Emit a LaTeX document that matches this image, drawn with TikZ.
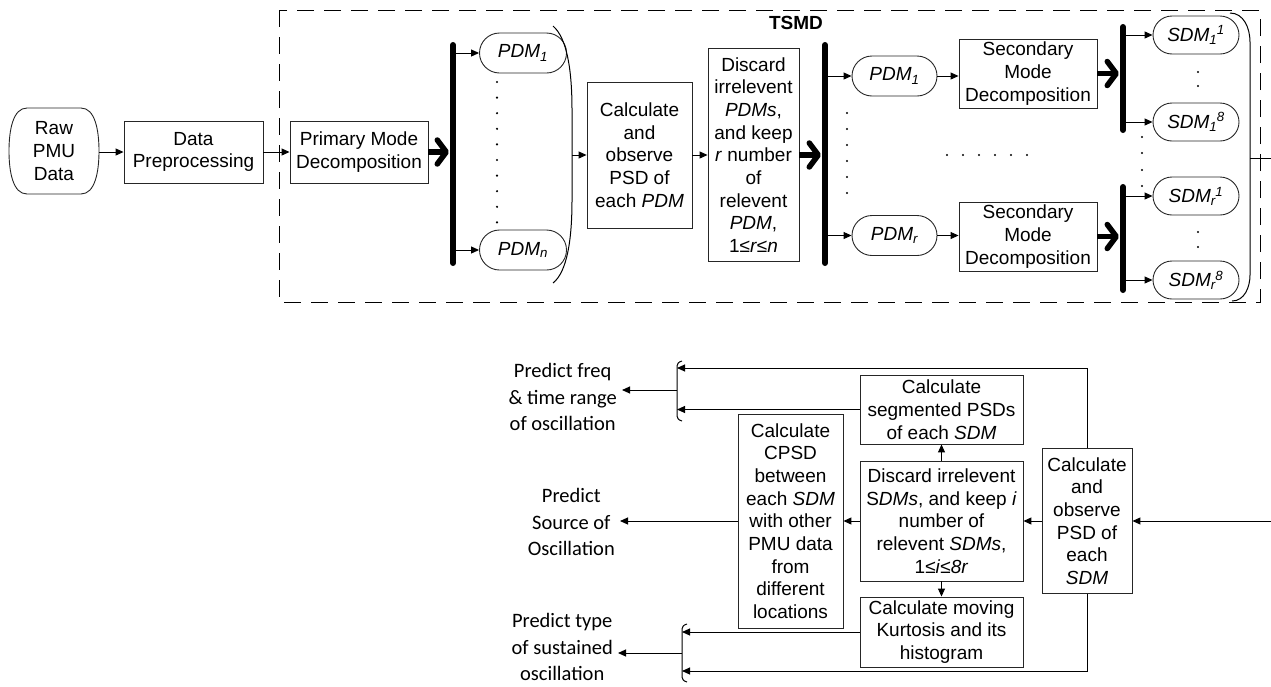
\documentclass[tikz,border=0pt]{standalone}
\usepackage{fontspec}
\setmainfont{Liberation Sans}
\newfontfamily\calfont{Carlito}
\usetikzlibrary{arrows.meta,shapes.misc}
\newcommand\SDMx[2]{\textit{SDM\textsubscript{#1}\kern-0.5pt\textsuperscript{#2}}}
\newcommand\PDMx[1]{\textit{PDM\textsubscript{#1}}}
\begin{document}
\begin{tikzpicture}[x=1pt,y=-1pt,
  every node/.style={font=\fontsize{19}{22.7}\selectfont, inner sep=0pt},
  box/.style={draw=black!85, line width=0.9pt, align=center, rectangle},
  term/.style={draw=black!85, line width=0.9pt, rounded rectangle, minimum width=87pt, minimum height=40pt},
  arr/.style={line width=1pt, -{Triangle[length=8pt,width=7pt]}},
  ln/.style={line width=1pt},
  barline/.style={line width=6pt, line cap=round},
  fat/.style={line width=5.5pt, -{Straight Barb[length=9pt,width=24pt,round]}},
  outtxt/.style={font=\calfont\fontsize{20.5}{26.5}\selectfont, align=center, inner sep=5pt},
  dashbox/.style={dash pattern=on 17pt off 10pt, line width=1pt}
]
\useasboundingbox (0,0) rectangle (1271,686);

% ---------- top part ----------
\draw[dashbox] (279,10) rectangle (1260,302);
\node[font=\bfseries\fontsize{19}{22}\selectfont] (tsmd) at (796,23) {TSMD};

\node[minimum width=90pt, minimum height=86pt, align=center] (raw) at (54,151) {Raw\\PMU\\Data};
\draw[draw=black!85, line width=0.9pt] (27,108) -- (81,108) .. controls (95,108) and (99,130) .. (99,151)
  .. controls (99,172) and (95,194) .. (81,194) -- (27,194) .. controls (13,194) and (9,172) .. (9,151)
  .. controls (9,130) and (13,108) .. (27,108) -- cycle;
\node[box, minimum width=139pt, minimum height=62pt] (dp) at (193.5,152) {Data\\Preprocessing};
\node[box, minimum width=138pt, minimum height=62pt] (pmd) at (359,152) {Primary Mode\\Decomposition};
\draw[arr] (raw.east |- dp) -- (dp.west);
\draw[arr] (dp.east) -- (pmd.west);

\coordinate (b1t) at (453,45);
\coordinate (b1b) at (453,263);
\draw[barline] (b1t) -- (b1b);
\draw[fat] (pmd.east) -- ([xshift=-4pt]b1t |- pmd.east);

\node[term] (pdm1) at (523,53) {\PDMx{1}};
\node[term] (pdmn) at (523,250) {\PDMx{n}};
\draw[arr] (b1t |- pdm1) -- (pdm1.west);
\draw[arr] (b1t |- pdmn) -- (pdmn.west);
\foreach \y in {82,97.6,...,224} \fill (497,\y) circle (1.2pt);

\draw[ln] (553,26) .. controls (567,38) and (572,70) .. (572,110) -- (572,200) .. controls (572,240) and (567,272) .. (553,283);
\coordinate (br1) at (572,155);

\node[box, minimum width=105pt, minimum height=146pt] (psd1) at (639.5,155)
  {Calculate\\and\\observe\\PSD of\\each \textit{PDM}};
\draw[arr] (br1) -- (psd1.west);

\node[box, minimum width=91pt, minimum height=213pt] (disc1) at (753.5,155)
  {Discard\\irrelevent\\\textit{PDMs},\\and keep\\\textit{r} number\\of\\relevent\\\textit{PDM},\\1≤\textit{r}≤\textit{n}};
\draw[arr] (psd1.east) -- (disc1.west);

\coordinate (b2t) at (825,45);
\coordinate (b2b) at (825,263);
\draw[barline] (b2t) -- (b2b);
\draw[fat] (disc1.east) -- ([xshift=-4pt]b2t |- disc1.east);

\node[term, minimum width=85pt] (pdmA) at (894.5,76) {\PDMx{1}};
\node[term, minimum width=85pt] (pdmR) at (894.5,235.5) {\PDMx{r}};
\draw[arr] (b2t |- pdmA) -- (pdmA.west);
\draw[arr] (b2t |- pdmR) -- (pdmR.west);
\foreach \y in {113,129,...,194} \fill (847,\y) circle (1.2pt);

\node[box, minimum width=138pt, minimum height=69pt] (smd1) at (1028,73.5) {Secondary\\Mode\\Decomposition};
\node[box, minimum width=138pt, minimum height=69pt] (smd2) at (1028,236.5) {Secondary\\Mode\\Decomposition};
\draw[arr] (pdmA.east) -- (pdmA.east -| smd1.west);
\draw[arr] (pdmR.east) -- (pdmR.east -| smd2.west);
\foreach \x in {947,963,...,1028} \fill (\x,155) circle (1.2pt);

\coordinate (b3t) at (1123,27);
\coordinate (b3b) at (1123,130);
\coordinate (b4t) at (1123,187);
\coordinate (b4b) at (1123,290);
\draw[barline] (b3t) -- (b3b);
\draw[barline] (b4t) -- (b4b);
\draw[fat] (smd1.east) -- ([xshift=-4pt]b3t |- smd1.east);
\draw[fat] (smd2.east) -- ([xshift=-4pt]b4t |- smd2.east);

\node[term, minimum width=86pt, minimum height=38pt] (s11) at (1196,35) {\SDMx{1}{1}};
\node[term, minimum width=86pt, minimum height=38pt] (s18) at (1196,122) {\SDMx{1}{8}};
\node[term, minimum width=86pt, minimum height=38pt] (sr1) at (1196,196) {\SDMx{r}{1}};
\node[term, minimum width=86pt, minimum height=38pt] (sr8) at (1196,280) {\SDMx{r}{8}};
\draw[arr] (b3t |- s11) -- (s11.west);
\draw[arr] (b3t |- s18) -- (s18.west);
\draw[arr] (b4t |- sr1) -- (sr1.west);
\draw[arr] (b4t |- sr8) -- (sr8.west);
\foreach \y in {72,86} \fill (1198,\y) circle (1.2pt);
\foreach \y in {232,247} \fill (1198,\y) circle (1.2pt);
\foreach \y in {137,153,170,186} \fill (1142,\y) circle (1.2pt);

\draw[ln] (1230,13) to[out=0,in=90] (1250,42) -- (1250,275) to[out=-90,in=0] (1232,301);
\coordinate (br2) at (1250,158);
\coordinate (redge) at (1271,158);
\draw[ln] (br2) -- (redge);

% ---------- bottom part ----------
\node[box, minimum width=90pt, minimum height=145pt] (psd2) at (1087,521)
  {Calculate\\and\\observe\\PSD of\\each\\\textit{SDM}};
\node[box, minimum width=163pt, minimum height=120pt] (disc2) at (941.5,521)
  {Discard irrelevent\\S\textit{DMs}, and keep \textit{i}\\number of\\relevent \textit{SDMs},\\1≤\textit{i}≤\textit{8r}};
\node[box, minimum width=163pt, minimum height=69pt] (seg) at (941.5,409.5)
  {Calculate\\segmented PSDs\\of each \textit{SDM}};
\node[box, minimum width=163pt, minimum height=70pt] (kurt) at (941.5,632)
  {Calculate moving\\Kurtosis and its\\histogram};
\node[box, minimum width=105pt, minimum height=214pt] (cpsd) at (790.5,521)
  {Calculate\\CPSD\\between\\each \textit{SDM}\\with other\\PMU data\\from\\different\\locations};

\coordinate (redge2) at (1271,521);
\draw[arr] (redge2) -- (psd2.east);
\draw[arr] (psd2.west) -- (disc2.east);
\draw[arr] (disc2.west) -- (cpsd.east);
\draw[arr] (disc2.north) -- (seg.south);
\draw[arr] (disc2.south) -- (kurt.north);

\node[outtxt, anchor=east] (pfreq) at (622,397) {Predict freq\\\& time range\\of oscillation};
\node[outtxt, anchor=east] (psrc) at (620,522) {Predict\\Source of\\Oscillation};
\node[outtxt, anchor=east] (ptype) at (618,647) {Predict type\\of sustained\\oscillation};

% upper bracket
\coordinate (k1a) at (677,368);
\coordinate (k1m) at (677,390);
\draw[ln] (682,361) .. controls (678,362) and (677,364) .. (677,368) -- (677,414) .. controls (677,418) and (678,420) .. (682,421);
\draw[arr] (psd2.north) |- (k1a);
\draw[arr] (seg.west) -- (seg.west -| k1a);
\draw[arr] (k1m) -- (k1m -| pfreq.east);

% lower bracket
\coordinate (k2a) at (682,671);
\coordinate (k2m) at (682,653);
\draw[ln] (687,624) .. controls (683,625) and (682,627) .. (682,631) -- (682,675) .. controls (682,679) and (683,681) .. (687,682);
\draw[arr] (psd2.south) |- (k2a);
\draw[arr] (kurt.west) -- (kurt.west -| k2a);
\draw[arr] (k2m) -- (k2m -| ptype.east);

\draw[arr] (cpsd.west) -- (cpsd.west -| psrc.east);
\end{tikzpicture}
\end{document}
